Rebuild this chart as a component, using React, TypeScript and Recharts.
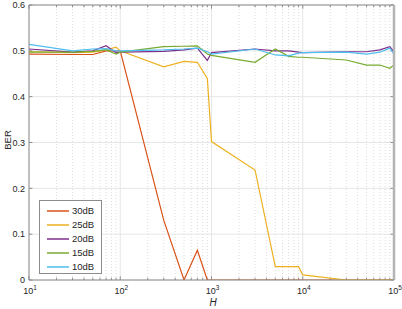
import React from 'react';
import { LineChart, Line, XAxis, YAxis, CartesianGrid, ReferenceLine, Legend } from 'recharts';

const H = [10, 30, 50, 70, 90, 100, 300, 500, 700, 900, 1000, 3000, 5000, 7000, 9000, 10000, 30000, 50000, 70000, 90000, 100000];
const ber30dB = [0.493, 0.492, 0.492, 0.5, 0.5, 0.5, 0.13, 0, 0.065, 0, 0, 0, 0, 0, 0, 0, 0, 0, 0, 0, 0];
const ber25dB = [0.498, 0.496, 0.497, 0.502, 0.508, 0.5, 0.465, 0.477, 0.475, 0.44, 0.302, 0.24, 0.029, 0.029, 0.029, 0.011, 0, 0, 0, 0, 0];
const ber20dB = [0.504, 0.497, 0.5, 0.511, 0.496, 0.497, 0.499, 0.502, 0.506, 0.479, 0.496, 0.504, 0.5, 0.5, 0.497, 0.496, 0.498, 0.498, 0.502, 0.509, 0.498];
const ber15dB = [0.497, 0.497, 0.499, 0.502, 0.493, 0.497, 0.509, 0.51, 0.511, 0.493, 0.49, 0.475, 0.504, 0.488, 0.486, 0.486, 0.48, 0.469, 0.469, 0.462, 0.469];
const ber10dB = [0.514, 0.5, 0.504, 0.505, 0.5, 0.5, 0.502, 0.504, 0.506, 0.498, 0.493, 0.504, 0.491, 0.489, 0.495, 0.496, 0.497, 0.493, 0.497, 0.506, 0.493];

const seriesKeys = ['s30', 's25', 's20', 's15', 's10'];
const seriesNames = ['30dB', '25dB', '20dB', '15dB', '10dB'];
const seriesColors = ['#D95319', '#EDB120', '#7E2F8E', '#77AC30', '#4DBEEE'];

const yTicks = [0, 0.1, 0.2, 0.3, 0.4, 0.5, 0.6];
const yTickLabels = ['0', '0.1', '0.2', '0.3', '0.4', '0.5', '0.6'];
const xTicks = [10, 100, 1000, 10000, 100000];
const xTickExponents = ['1', '2', '3', '4', '5'];
const xMinor = [20, 30, 40, 50, 60, 70, 80, 90, 200, 300, 400, 500, 600, 700, 800, 900, 2000, 3000, 4000, 5000, 6000, 7000, 8000, 9000, 20000, 30000, 40000, 50000, 60000, 70000, 80000, 90000];

const data = H.map((h, i) => ({
  H: h,
  s30: ber30dB[i],
  s25: ber25dB[i],
  s20: ber20dB[i],
  s15: ber15dB[i],
  s10: ber10dB[i],
}));

const FONT = '"Liberation Sans", Arial, Helvetica, sans-serif';
const TXT = '#262626';
const AX = '#8c8c8c';

const XTick = (props: any) => {
  const { x, y, payload } = props;
  const idx = xTicks.indexOf(payload.value);
  return (
    <text x={x + 1} y={y} dy="0.71em" textAnchor="middle" fontSize={9} fill={TXT} fontFamily={FONT}>
      10<tspan dy={-4} fontSize={6.5}>{xTickExponents[idx]}</tspan>
    </text>
  );
};

const YTick = (props: any) => {
  const { x, y, payload } = props;
  const idx = yTicks.indexOf(payload.value);
  return (
    <text x={x} y={y} dy="0.355em" textAnchor="end" fontSize={9} fill={TXT} fontFamily={FONT}>
      {yTickLabels[idx]}
    </text>
  );
};

const renderLegend = () => (
  <div
    style={{
      width: 63,
      height: 74,
      boxSizing: 'border-box',
      border: '1px solid #8c8c8c',
      background: '#fff',
      paddingTop: 3,
      fontFamily: FONT,
      fontSize: 9.5,
      color: TXT,
    }}
  >
    {seriesNames.map((name, i) => (
      <div key={name} style={{ height: 14, display: 'flex', alignItems: 'center' }}>
        <svg width={30} height={14} style={{ display: 'block', flex: 'none' }}>
          <line x1={7} y1={7} x2={29} y2={7} stroke={seriesColors[i]} strokeWidth={1.5} />
        </svg>
        <span style={{ marginLeft: 2, lineHeight: '14px' }}>{name}</span>
      </div>
    ))}
  </div>
);

const yTickLenX = [10, 10.9];
const yTickLenXR = [91600, 100000];

export default function App() {
  return (
    <div style={{ position: 'fixed', left: 0, top: 0, width: 402, height: 309, background: '#fff' }}>
      <LineChart width={402} height={309} data={data} margin={{ top: 5, right: 8, bottom: 0, left: 0 }}>
        <CartesianGrid stroke="#e6e6e6" strokeWidth={1} />
        {xMinor.map((v) => (
          <ReferenceLine key={'g' + v} x={v} stroke="#dcdcdc" strokeDasharray="1 2" />
        ))}
        <XAxis
          dataKey="H"
          type="number"
          scale="log"
          domain={[10, 100000]}
          ticks={xTicks}
          interval={0}
          allowDataOverflow
          tick={<XTick />}
          tickLine={false}
          tickSize={6}
          tickMargin={2}
          height={29}
          axisLine={{ stroke: AX }}
          label={() => (
            <text x={213} y={306} textAnchor="middle" fontSize={10} fontStyle="italic" fill={TXT} fontFamily={FONT}>
              H
            </text>
          )}
        />
        <YAxis
          type="number"
          domain={[0, 0.6]}
          ticks={yTicks}
          interval={0}
          allowDataOverflow
          tick={<YTick />}
          tickLine={false}
          tickSize={3}
          tickMargin={1}
          width={29}
          axisLine={{ stroke: AX }}
          label={() => (
            <text x={8} y={140} dy="0.35em" transform="rotate(-90 8 140)" textAnchor="middle" fontSize={9.5} fill={TXT} fontFamily={FONT}>
              BER
            </text>
          )}
        />
        <ReferenceLine y={0.6} stroke={AX} />
        {yTicks.map((v) => (
          <ReferenceLine key={'tl' + v} segment={[{ x: yTickLenX[0], y: v }, { x: yTickLenX[1], y: v }]} stroke={AX} />
        ))}
        {yTicks.map((v) => (
          <ReferenceLine key={'tr' + v} segment={[{ x: yTickLenXR[0], y: v }, { x: yTickLenXR[1], y: v }]} stroke={AX} />
        ))}
        {xTicks.map((v) => (
          <ReferenceLine key={'tb' + v} segment={[{ x: v, y: 0 }, { x: v, y: 0.008 }]} stroke={AX} />
        ))}
        {xTicks.map((v) => (
          <ReferenceLine key={'tt' + v} segment={[{ x: v, y: 0.592 }, { x: v, y: 0.6 }]} stroke={AX} />
        ))}
        {xMinor.map((v) => (
          <ReferenceLine key={'mb' + v} segment={[{ x: v, y: 0 }, { x: v, y: 0.005 }]} stroke={AX} />
        ))}
        {xMinor.map((v) => (
          <ReferenceLine key={'mt' + v} segment={[{ x: v, y: 0.595 }, { x: v, y: 0.6 }]} stroke={AX} />
        ))}
        {seriesKeys.map((k, i) => (
          <Line
            key={k}
            dataKey={k}
            name={seriesNames[i]}
            stroke={seriesColors[i]}
            strokeWidth={1.2}
            dot={false}
            activeDot={false}
            isAnimationActive={false}
            type="linear"
          />
        ))}
        <ReferenceLine x={100000} stroke="#b4b4b4" strokeWidth={2.5} />
        <Legend
          layout="vertical"
          align="center"
          verticalAlign="middle"
          content={renderLegend}
          wrapperStyle={{ left: 39, top: 200, width: 63, height: 74 }}
        />
      </LineChart>
    </div>
  );
}
